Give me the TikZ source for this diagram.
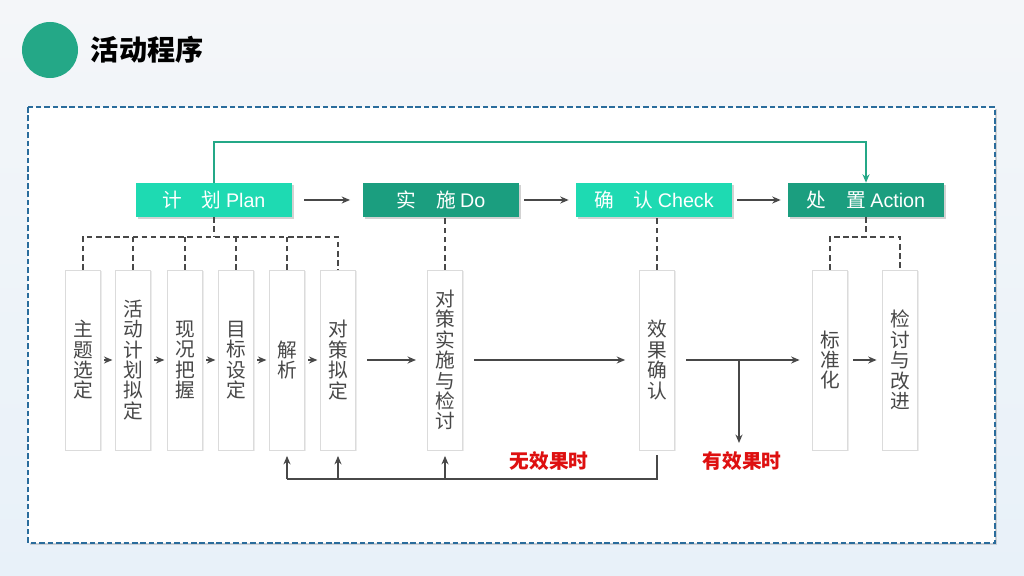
\documentclass[tikz,border=0pt]{standalone}
\usepackage{fontspec}
\setmainfont{Noto Sans CJK SC}
\newfontfamily\latin{Liberation Sans}
\usepackage{tikz}
\usetikzlibrary{arrows.meta}
\usetikzlibrary{shadows}
\usetikzlibrary{calc}
\definecolor{teallight}{RGB}{30,218,178}
\definecolor{tealdark}{RGB}{27,158,127}
\definecolor{markgreen}{RGB}{36,168,135}
\definecolor{frameblue}{RGB}{42,108,156}
\definecolor{ink}{RGB}{72,72,72}
\definecolor{bgtop}{RGB}{244,246,249}
\definecolor{bgbot}{RGB}{232,241,249}
\definecolor{notered}{RGB}{222,16,16}
\tikzset{tbox/.style={minimum width=3.9cm, minimum height=0.85cm, inner sep=0pt, text=white, font=\fontsize{14}{14}\selectfont, drop shadow={shadow xshift=1.2pt, shadow yshift=-1.2pt, opacity=0.35}}}
\tikzset{vbox/.style={draw=black!14, fill=white, minimum width=0.875cm, minimum height=4.5cm, inner sep=0pt, align=center, text=ink, font=\fontsize{14}{14.5}\selectfont, drop shadow={shadow xshift=1pt, shadow yshift=-1pt, opacity=0.15}}}
\tikzset{arr/.style={->, ink, line width=1.3pt, shorten >=2pt, shorten <=2pt}}
\tikzset{dline/.style={ink, line width=1.2pt, dash pattern=on 4pt off 2.5pt}}
\tikzset{note/.style={text=notered, font=\fontsize{14}{14}\selectfont\bfseries}}

\begin{document}
\begin{tikzpicture}[x=0.025cm, y=-0.025cm, >={Stealth[length=6pt,width=5pt]}]
  \useasboundingbox (0,0) rectangle (1024,576);
  \shade [top color=bgtop, bottom color=bgbot] (0,0) rectangle (1024,576);
  % title
  \fill [markgreen] (50,50) circle [radius=0.7cm];
  \node [anchor=west, font=\fontsize{20}{20}\selectfont\bfseries] (title) at (86,50) {活动程序};
  % frame
  \draw [frameblue, line width=1.2pt, dash pattern=on 4pt off 2pt, fill=white,
         drop shadow={shadow xshift=1.5pt, shadow yshift=-1.5pt, opacity=0.3}] (28,107) rectangle (995,543);
  % PDCA row
  \node [tbox, fill=teallight] (plan) at (214,200) {计\hspace{1em}划 {\latin Plan}};
  \node [tbox, fill=tealdark] (do) at (441,200) {实\hspace{1em}施 {\latin Do}}
    edge [<-, ink, line width=1pt, shorten >=8pt, shorten <=9pt] (plan);
  \node [tbox, fill=teallight] (check) at (654,200) {确\hspace{1em}认 {\latin Check}}
    edge [<-, ink, line width=1pt, shorten >=3pt, shorten <=5pt] (do);
  \node [tbox, fill=tealdark] (action) at (866,200) {处\hspace{1em}置 {\latin Action}}
    edge [<-, ink, line width=1pt, shorten >=3pt, shorten <=5pt] (check);
  \coordinate (loop) at (214,142);
  \draw [->, markgreen, line width=1.2pt] (plan.north) -- (loop) -| (action.north);
  % steps
  \node [vbox] (v1) at (83,360) {主\\题\\选\\定};
  \node [vbox] (v2) at (133,360) {活\\动\\计\\划\\拟\\定}
    edge [arr, <-] (v1);
  \node [vbox] (v3) at (185,360) {现\\况\\把\\握}
    edge [arr, <-] (v2);
  \node [vbox] (v4) at (236,360) {目\\标\\设\\定}
    edge [arr, <-] (v3);
  \node [vbox] (v5) at (287,360) {解\\析}
    edge [arr, <-] (v4);
  \node [vbox] (v6) at (338,360) {对\\策\\拟\\定}
    edge [arr, <-] (v5);
  \node [vbox] (v7) at (445,360) {对\\策\\实\\施\\与\\检\\讨}
    edge [arr, <-, shorten >=8pt, shorten <=8pt] (v6);
  \node [vbox] (v8) at (657,360) {效\\果\\确\\认}
    edge [arr, <-, shorten >=8pt, shorten <=10pt] (v7);
  \node [vbox] (v9) at (830,360) {标\\准\\化}
    edge [arr, <-, shorten >=8pt, shorten <=9pt] (v8);
  \node [vbox] (v10) at (900,360) {检\\讨\\与\\改\\进}
    edge [arr, <-, shorten >=4pt, shorten <=4pt] (v9);
  % dashed links
  \coordinate (pj) at (214,237);
  \coordinate (aj) at (866,237);
  \draw [dline] (plan.south) -- (pj);
  \draw [dline] (v1.north) -- (v1.north |- pj) -- (v6.north |- pj) -- (v6.north);
  \draw [dline] (v2.north) -- (v2.north |- pj);
  \draw [dline] (v3.north) -- (v3.north |- pj);
  \draw [dline] (v4.north) -- (v4.north |- pj);
  \draw [dline] (v5.north) -- (v5.north |- pj);
  \draw [dline] (v7.north) -- (v7.north |- do.south);
  \draw [dline] (v8.north) -- (v8.north |- check.south);
  \draw [dline] (action.south) -- (aj);
  \draw [dline] (v9.north) -- (v9.north |- aj) -- (v10.north |- aj) -- (v10.north);
  % results
  \coordinate (ok) at (739,360);
  \coordinate (okend) at (739,443);
  \draw [->, ink, line width=1.3pt] (ok) -- (okend);
  \node [note] (yes) at (742,461) {有效果时};
  \node [note] (no) at (549,461) {无效果时};
  \coordinate (back) at (657,479);
  \coordinate (backend) at (287,479);
  \draw [ink, line width=1.3pt] ($(v8.south)+(0,5)$) -- (back) -- (backend);
  \draw [->, ink, line width=1.3pt, shorten >=4pt] (backend) -- (v5.south);
  \draw [->, ink, line width=1.3pt, shorten >=4pt] (v6.south |- back) -- (v6.south);
  \draw [->, ink, line width=1.3pt, shorten >=4pt] (v7.south |- back) -- (v7.south);
\end{tikzpicture}
\end{document}
